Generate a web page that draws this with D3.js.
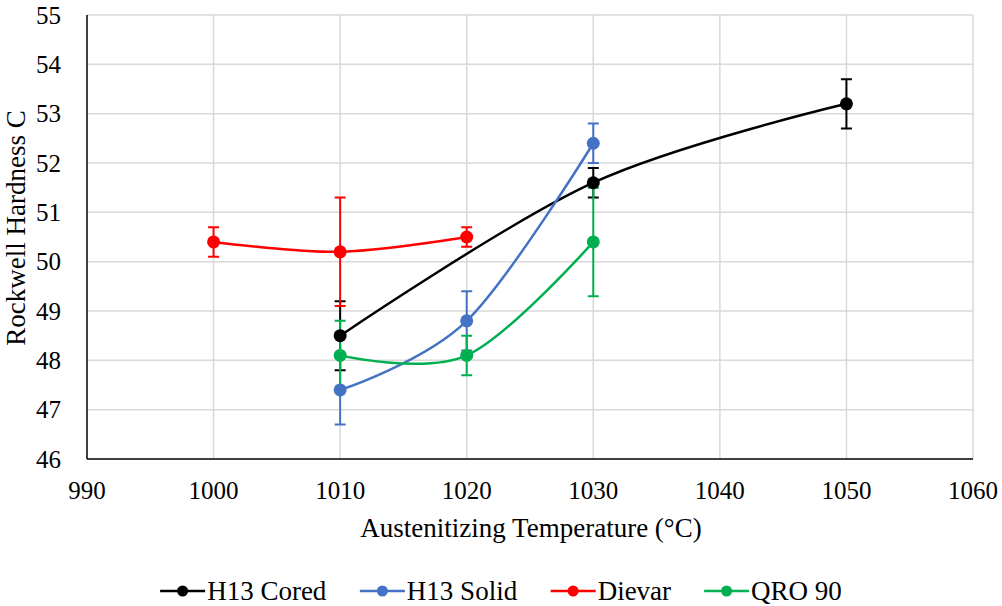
<!DOCTYPE html>
<html>
<head>
<meta charset="utf-8">
<script src="https://cdn.jsdelivr.net/npm/d3@7"></script>
<style>
  body { margin: 0; background: #fff; }
  svg text { font-family: "Liberation Serif", "Times New Roman", serif; fill: #000; }
</style>
</head>
<body>
<div id="chart"></div>
<script>
// data
const seriesNames = ["H13 Cored", "H13 Solid", "Dievar", "QRO 90"];
const seriesColors = ["#000000", "#4472C4", "#FF0000", "#00B050"];

const coredTemp = [1010, 1030, 1050];
const coredHRC = [48.5, 51.6, 53.2];
const coredErr = [0.7, 0.3, 0.5];

const solidTemp = [1010, 1020, 1030];
const solidHRC = [47.4, 48.8, 52.4];
const solidErr = [0.7, 0.6, 0.4];

const dievarTemp = [1000, 1010, 1020];
const dievarHRC = [50.4, 50.2, 50.5];
const dievarErr = [0.3, 1.1, 0.2];

const qroTemp = [1010, 1020, 1030];
const qroHRC = [48.1, 48.1, 50.4];
const qroErr = [0.7, 0.4, 1.1];

const xTicks = [990, 1000, 1010, 1020, 1030, 1040, 1050, 1060];
const yTicks = [46, 47, 48, 49, 50, 51, 52, 53, 54, 55];

const temps = [coredTemp, solidTemp, dievarTemp, qroTemp];
const hrcs = [coredHRC, solidHRC, dievarHRC, qroHRC];
const errs = [coredErr, solidErr, dievarErr, qroErr];

const series = seriesNames.map((name, i) => ({
  name,
  color: seriesColors[i],
  points: temps[i].map((t, j) => ({ t, v: hrcs[i][j], e: errs[i][j] }))
}));

const width = 1002, height = 606;
const margin = { left: 87, right: 29, top: 15, bottom: 147 };
const serif = "'Liberation Serif', 'Times New Roman', serif";

const svg = d3.select("#chart").append("svg")
  .attr("width", width)
  .attr("height", height);

const x = d3.scaleLinear().domain([990, 1060]).range([margin.left, width - margin.right]);
const y = d3.scaleLinear().domain([46, 55]).range([height - margin.bottom, margin.top]);

// gridlines
const grid = svg.append("g")
  .attr("stroke", "#D9D9D9")
  .attr("stroke-width", 1.5);

grid.selectAll("line.h")
  .data(yTicks.slice(1))
  .join("line")
  .attr("class", "h")
  .attr("x1", x(990)).attr("x2", x(1060))
  .attr("y1", d => y(d)).attr("y2", d => y(d));

grid.selectAll("line.v")
  .data(xTicks.slice(1))
  .join("line")
  .attr("class", "v")
  .attr("y1", y(46)).attr("y2", y(55))
  .attr("x1", d => x(d)).attr("x2", d => x(d));

// axes lines
svg.append("line")
  .attr("x1", x(990)).attr("x2", x(990))
  .attr("y1", y(55)).attr("y2", y(46))
  .attr("stroke", "#000").attr("stroke-width", 1.5);
svg.append("line")
  .attr("x1", x(990)).attr("x2", x(1060))
  .attr("y1", y(46)).attr("y2", y(46))
  .attr("stroke", "#000").attr("stroke-width", 1.5);

// tick labels
svg.append("g")
  .selectAll("text")
  .data(yTicks)
  .join("text")
  .attr("x", 61)
  .attr("y", d => y(d))
  .attr("dy", "0.35em")
  .attr("text-anchor", "end")
  .attr("font-family", serif)
  .attr("font-size", 25)
  .text(d => d);

svg.append("g")
  .selectAll("text")
  .data(xTicks)
  .join("text")
  .attr("x", d => x(d))
  .attr("y", 499)
  .attr("text-anchor", "middle")
  .attr("font-family", serif)
  .attr("font-size", 25)
  .text(d => d);

// axis titles
svg.append("text")
  .attr("x", 531)
  .attr("y", 537)
  .attr("text-anchor", "middle")
  .attr("font-family", serif)
  .attr("font-size", 27)
  .text("Austenitizing Temperature (°C)");

svg.append("text")
  .attr("transform", `translate(25,228) rotate(-90)`)
  .attr("text-anchor", "middle")
  .attr("font-family", serif)
  .attr("font-size", 27)
  .text("Rockwell Hardness C");

// error bars
const capW = 5.5;
const errG = svg.append("g")
  .selectAll("g")
  .data(series)
  .join("g")
  .attr("stroke", d => d.color)
  .attr("stroke-width", 2);

errG.selectAll("path")
  .data(d => d.points)
  .join("path")
  .attr("fill", "none")
  .attr("d", p => {
    const cx = x(p.t), y1 = y(p.v + p.e), y2 = y(p.v - p.e);
    return `M${cx},${y1}V${y2}M${cx - capW},${y1}H${cx + capW}M${cx - capW},${y2}H${cx + capW}`;
  });

// smoothed lines
const line = d3.line()
  .x(p => x(p.t))
  .y(p => y(p.v))
  .curve(d3.curveCardinal.tension(0));

svg.append("g")
  .selectAll("path")
  .data(series)
  .join("path")
  .attr("fill", "none")
  .attr("stroke", d => d.color)
  .attr("stroke-width", 2.5)
  .attr("d", d => line(d.points));

// markers (black drawn last, on top)
const order = [1, 2, 3, 0];
svg.append("g")
  .selectAll("g")
  .data(order.map(i => series[i]))
  .join("g")
  .attr("fill", d => d.color)
  .selectAll("circle")
  .data(d => d.points)
  .join("circle")
  .attr("cx", p => x(p.t))
  .attr("cy", p => y(p.v))
  .attr("r", 6.5);

// legend, centred under the chart
const legend = svg.append("g").attr("transform", "translate(0,591)");
const items = legend.selectAll("g")
  .data(series)
  .join("g");

items.append("line")
  .attr("x1", 0).attr("x2", 45)
  .attr("stroke", d => d.color)
  .attr("stroke-width", 2.5);
items.append("circle")
  .attr("cx", 22.5).attr("r", 5.5)
  .attr("fill", d => d.color);
items.append("text")
  .attr("x", 47)
  .attr("dy", "0.35em")
  .attr("font-family", serif)
  .attr("font-size", 27)
  .text(d => d.name);

const gap = 33;
let offsets = [], cur = 0;
items.each(function () {
  offsets.push(cur);
  cur += this.getBBox().width + gap;
});
const total = cur - gap;
const startX = width / 2 - total / 2;
items.attr("transform", (d, i) => `translate(${startX + offsets[i]},0)`);
</script>
</body>
</html>
